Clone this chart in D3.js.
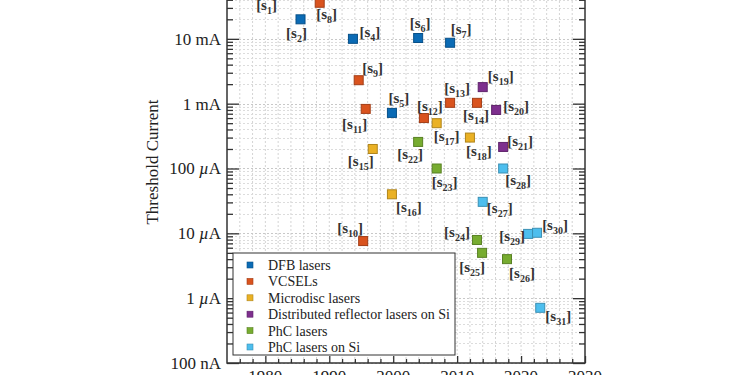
<!DOCTYPE html>
<html>
<head>
<meta charset="utf-8">
<script src="https://cdn.jsdelivr.net/npm/d3@7"></script>
<style>
  html, body { margin: 0; padding: 0; background: #fff; overflow: hidden; }
  svg text { font-family: "Liberation Serif", "DejaVu Serif", serif; fill: #222; }
</style>
</head>
<body>
<div id="chart"></div>
<script>
// legend categories
var categories = ["DFB lasers", "VCSELs", "Microdisc lasers", "Distributed reflector lasers on Si", "PhC lasers", "PhC lasers on Si"]
var catColors = ["#0b6bb5", "#d9531e", "#eab124", "#7e2f8e", "#77ac30", "#4dbeee"]

// reference points: id, year, threshold current (A), category index
var refIds = [1, 2, 4, 5, 6, 7, 8, 9, 10, 11, 12, 13, 14, 15, 16, 17, 18, 19, 20, 21, 22, 23, 24, 25, 26, 27, 28, 29, 30, 31]
var refYears = [1980.5, 1985.5, 1993.7, 1999.8, 2003.9, 2008.9, 1988.5, 1994.6, 1995.3, 1995.7, 2004.8, 2008.9, 2013.1, 1996.8, 1999.8, 2006.8, 2012.0, 2014.0, 2016.1, 2017.2, 2003.9, 2006.8, 2013.1, 2013.9, 2017.8, 2014.0, 2017.2, 2021.1, 2022.5, 2023.0]
var refCurrents = [55e-3, 20e-3, 10e-3, 0.72e-3, 10.3e-3, 8.7e-3, 36e-3, 2.3e-3, 7.6e-6, 0.83e-3, 0.60e-3, 1.03e-3, 1.03e-3, 200e-6, 40e-6, 0.5e-3, 0.3e-3, 1.8e-3, 0.8e-3, 0.215e-3, 0.257e-3, 100e-6, 7.9e-6, 5e-6, 4e-6, 30.6e-6, 100e-6, 9.8e-6, 10.2e-6, 0.71e-6]
var refTypes = [0, 0, 0, 0, 0, 0, 1, 1, 1, 1, 1, 1, 1, 2, 2, 2, 2, 3, 3, 3, 4, 4, 4, 4, 4, 5, 5, 5, 5, 5]

// axis ticks
var xTickYears = [1980, 1990, 2000, 2010, 2020, 2030]
var yTickValues = [1e-7, 1e-6, 1e-5, 1e-4, 1e-3, 1e-2]
var yTickNumbers = ["100", "1", "10", "100", "1", "10"]
var yTickUnits = ["nA", "µA", "µA", "µA", "mA", "mA"]

var width = 750, height = 375
var margin = { left: 227, right: 165, top: -26, bottom: 12 }

// label offset from marker centre (px)
var labelOffsets = {
  1: [-2, 15], 2: [-4, 14], 4: [17, -6], 5: [7, -14], 6: [2, -15], 7: [11, -13],
  8: [7, 12], 9: [14, -12], 10: [-13, -13], 11: [-11, 16], 12: [6, -12], 13: [7, -14],
  14: [-1, 13], 15: [-12, 13], 16: [17, 13], 17: [10, 13], 18: [9, 14], 19: [18, -11],
  20: [20, -3], 21: [17, -5], 22: [-8, 13], 23: [8, 14], 24: [-20, -7], 25: [-10, 15],
  26: [15, 14], 27: [17, 7], 28: [15, 12], 29: [-16, 3], 30: [18, -7], 31: [18, 9]
}

var svg = d3.select("#chart")
  .append("svg")
  .attr("width", width)
  .attr("height", height)

var xScale = d3.scaleLinear()
  .domain([1974, 2030])
  .range([margin.left, width - margin.right])

var yScale = d3.scaleLog()
  .domain([1e-7, 1e-1])
  .range([height - margin.bottom, margin.top])

var x0 = xScale.range()[0], x1 = xScale.range()[1]
var y0 = yScale.range()[0], y1 = yScale.range()[1]

// minor tick values
var minorYears = d3.range(1976, 2030, 2)
var minorY = []
for (var e = -7; e < -1; e++) {
  for (var m = 1; m < 10; m++) minorY.push(m * Math.pow(10, e))
}

// grid
var gridG = svg.append("g").attr("class", "grid")
gridG.selectAll(".vgrid")
  .data(minorYears)
  .enter()
  .append("line")
  .attr("x1", d => xScale(d))
  .attr("x2", d => xScale(d))
  .attr("y1", y0)
  .attr("y2", y1)
  .attr("stroke", "#d4d4d4")
  .attr("stroke-width", 1)
  .attr("stroke-dasharray", "2,2")

gridG.selectAll(".hgrid")
  .data(minorY)
  .enter()
  .append("line")
  .attr("x1", x0)
  .attr("x2", x1)
  .attr("y1", d => Math.round(yScale(d)) + 0.5)
  .attr("y2", d => Math.round(yScale(d)) + 0.5)
  .attr("stroke", (d, i) => i % 9 === 0 ? "#c8c8c8" : "#dcdcdc")
  .attr("stroke-width", 1)
  .attr("stroke-dasharray", "2,2")

// axes (ticks drawn inward)
var yMinorLeft = d3.axisRight(yScale).tickValues(minorY.filter((d, i) => i % 9 !== 0)).tickSize(6).tickFormat("")
var yMajorLeft = d3.axisRight(yScale).tickValues(yTickValues).tickSize(12).tickFormat("")
var yMinorRight = d3.axisLeft(yScale).tickValues(minorY.filter((d, i) => i % 9 !== 0)).tickSize(6).tickFormat("")
var yMajorRight = d3.axisLeft(yScale).tickValues(yTickValues).tickSize(12).tickFormat("")
var xMinor = d3.axisTop(xScale).tickValues(minorYears.filter(d => d % 10 !== 0)).tickSize(4).tickFormat("")
var xMajor = d3.axisTop(xScale).tickValues(xTickYears).tickSize(7).tickFormat("")

;[yMinorLeft, yMajorLeft].forEach(function(ax) {
  svg.append("g").attr("class", "y-axis").attr("transform", `translate(${x0},0)`).call(ax)
})
;[yMinorRight, yMajorRight].forEach(function(ax) {
  svg.append("g").attr("class", "y-axis").attr("transform", `translate(${x1},0)`).call(ax)
})
;[xMinor, xMajor].forEach(function(ax) {
  svg.append("g").attr("class", "x-axis").attr("transform", `translate(0,${y0})`).call(ax)
})
svg.selectAll(".y-axis .domain, .x-axis .domain").remove()
svg.selectAll(".y-axis line, .x-axis line")
  .attr("stroke", "#333")
  .attr("stroke-width", 1.3)

// frame
svg.append("rect")
  .attr("x", x0)
  .attr("y", y1)
  .attr("width", x1 - x0)
  .attr("height", y0 - y1)
  .attr("fill", "none")
  .attr("stroke", "#333")
  .attr("stroke-width", 1.5)

// y tick labels
var yLab = svg.append("g").attr("class", "y-labels")
  .selectAll("text")
  .data(yTickValues)
  .enter()
  .append("text")
  .attr("x", x0 - 6)
  .attr("y", d => yScale(d))
  .attr("dy", "0.35em")
  .attr("text-anchor", "end")
  .style("font-size", "17px")
yLab.append("tspan").text((d, i) => yTickNumbers[i] + " ")
yLab.append("tspan")
  .style("font-style", (d, i) => yTickUnits[i].charAt(0) === "µ" ? "italic" : "normal")
  .text((d, i) => yTickUnits[i].charAt(0))
yLab.append("tspan").text((d, i) => yTickUnits[i].slice(1))

// x tick labels (only their tops fall inside the view, as in the source)
svg.append("g").attr("class", "x-labels")
  .selectAll("text")
  .data(xTickYears)
  .enter()
  .append("text")
  .attr("x", d => xScale(d))
  .attr("y", y0 + 19)
  .attr("text-anchor", "middle")
  .style("font-size", "17px")
  .text(d => d)

svg.append("text")
  .attr("transform", `translate(${158},${162}) rotate(-90)`)
  .attr("text-anchor", "middle")
  .style("font-size", "17px")
  .text("Threshold Current")

// markers
var points = refIds.map((id, i) => ({ id: id, year: refYears[i], cur: refCurrents[i], type: refTypes[i] }))
var ms = 9
var ptsG = svg.append("g").attr("class", "points")
ptsG.selectAll("rect")
  .data(points)
  .enter()
  .append("rect")
  .attr("x", d => xScale(d.year) - ms / 2)
  .attr("y", d => yScale(d.cur) - ms / 2)
  .attr("width", ms)
  .attr("height", ms)
  .attr("fill", d => catColors[d.type])
  .attr("stroke", d => d3.color(catColors[d.type]).darker(0.8))
  .attr("stroke-width", 1)

// reference labels
var labs = ptsG.selectAll("text")
  .data(points)
  .enter()
  .append("text")
  .attr("x", d => xScale(d.year) + labelOffsets[d.id][0])
  .attr("y", d => yScale(d.cur) + labelOffsets[d.id][1])
  .attr("dy", "0.3em")
  .attr("text-anchor", "middle")
  .style("font-size", "15px")
  .style("font-weight", "bold")
  .style("fill", "#333")
labs.append("tspan").text("[s")
labs.append("tspan").attr("dy", 4).style("font-size", "10px").text(d => d.id)
labs.append("tspan").attr("dy", -4).text("]")

// legend
var legX = 233, legY = 253, legW = 222, legH = 102
var legend = svg.append("g").attr("class", "legend")
legend.append("rect")
  .attr("x", legX)
  .attr("y", legY)
  .attr("width", legW)
  .attr("height", legH)
  .attr("fill", "#fff")
  .attr("stroke", "#333")
  .attr("stroke-width", 1)

var rows = legend.selectAll(".row")
  .data(categories)
  .enter()
  .append("g")
  .attr("transform", (d, i) => `translate(${legX + 17},${legY + 12 + i * 16.4})`)
rows.append("rect")
  .attr("x", -3)
  .attr("y", -3)
  .attr("width", 6)
  .attr("height", 6)
  .attr("fill", (d, i) => catColors[i])
  .attr("stroke", (d, i) => d3.color(catColors[i]).darker(0.8))
  .attr("stroke-width", 0.6)
rows.append("text")
  .attr("x", 18)
  .attr("dy", "0.35em")
  .style("font-size", "14px")
  .text(d => d)
</script>
</body>
</html>
